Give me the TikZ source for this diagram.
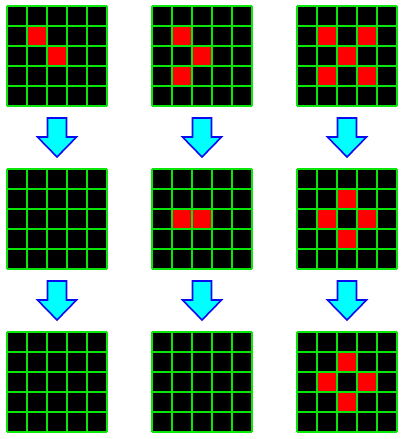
\documentclass[tikz,border=0pt]{standalone}
\usepackage{tikz}
\usetikzlibrary{positioning}
\definecolor{gridgreen}{RGB}{10,230,10}
\definecolor{arrowcyan}{RGB}{0,255,255}
\definecolor{arrowblue}{RGB}{10,10,240}
\newcommand\bigdownarrow[2]{
  \filldraw[fill=arrowcyan, draw=arrowblue, line width=1.6pt, line join=miter]
    (#1-9.5,#2)--(#1+9.5,#2)--(#1+9.5,#2+19)--(#1+19.5,#2+19)--(#1,#2+39)
    --(#1-19.5,#2+19)--(#1-9.5,#2+19)--cycle;
}

\begin{document}
\begin{tikzpicture}[x=1pt, y=-1pt]
	\useasboundingbox (0,0) rectangle (405,439);
	% boards
	\foreach \bx/\by in {7/6, 152/6, 297/6, 7/169, 152/169, 297/169, 7/332, 152/332, 297/332}
		\fill[black] (\bx,\by) rectangle ++(100,100);
	% red cells
	\foreach \bx/\by/\cells in {7/6/{1/1,2/2}, 152/6/{1/1,2/2,1/3}, 297/6/{1/1,3/1,2/2,1/3,3/3},
	                            152/169/{1/2,2/2}, 297/169/{2/1,1/2,3/2,2/3}, 297/332/{2/1,1/2,3/2,2/3}}
		\foreach \c/\r in \cells
			\fill[red] (\bx+20*\c,\by+20*\r) rectangle ++(20,20);
	% grid lines
	\foreach \bx/\by in {7/6, 152/6, 297/6, 7/169, 152/169, 297/169, 7/332, 152/332, 297/332}
		\foreach \k in {0,...,5} {
			\draw[gridgreen, line width=1.1pt] (\bx+20*\k,\by)--(\bx+20*\k,\by+100);
			\draw[gridgreen, line width=1.1pt] (\bx,\by+20*\k)--(\bx+100,\by+20*\k);
		}
	% arrows
	\foreach \ax in {57, 202, 347} {
		\bigdownarrow{\ax}{118}
		\bigdownarrow{\ax}{281}
	}
\end{tikzpicture}
\end{document}
